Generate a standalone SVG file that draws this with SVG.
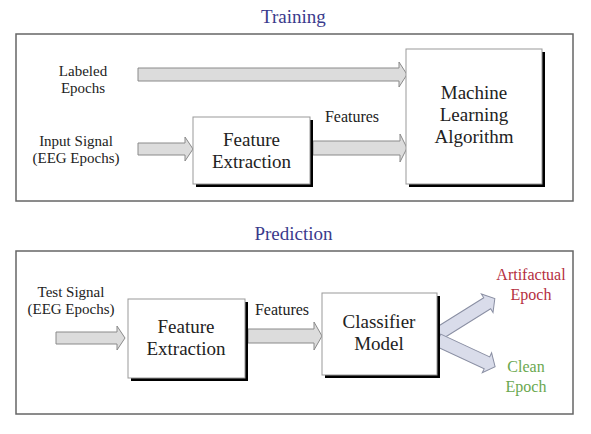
<svg xmlns="http://www.w3.org/2000/svg" width="591" height="434" viewBox="0 0 591 434">
<style>
text{font-family:'Liberation Serif','DejaVu Serif Condensed','DejaVu Serif',serif;text-anchor:middle;fill:#222}
.title{font-size:19px;fill:#3a3a8c}
.lbl{font-size:15px}
.feat{font-size:16px}
.box{font-size:19px}
.frame{fill:#fff;stroke:#666;stroke-width:1.5}
.node rect.b{fill:#fff;stroke:#999;stroke-width:1}
.node rect.s{fill:#000}
.arr{fill:#dcdcdc;stroke:#8a8a8a;stroke-width:1}
.darr{fill:#d9dcea;stroke:#8a8fa3;stroke-width:1}
</style>
<rect width="591" height="434" fill="#fff"/>
<g id="training-frame">
<rect class="frame" x="16" y="34" width="557" height="167"/>
<text class="title" x="293.5" y="23">Training</text>
</g>
<g id="prediction-frame">
<rect class="frame" x="16" y="251" width="557" height="163"/>
<text class="title" x="293.5" y="240">Prediction</text>
</g>
<g id="connectors">
<polygon class="arr" points="138,68 399,68 399,62 407,74.5 399,87 399,81 138,81"/>
<polygon class="arr" points="138,143 185,143 185,137 193,149 185,161 185,155 138,155"/>
<polygon class="arr" points="313,141 400,141 400,134 407,148 400,162 400,155 313,155"/>
<polygon class="arr" points="56,332 117,332 117,326 125,338 117,350 117,344 56,344"/>
<polygon class="arr" points="248,329 314,329 314,322 322,336 314,350 314,343 248,343"/>
<polygon class="darr" transform="translate(438,334) rotate(-32)" points="0,-6.5 58,-6.5 58,-11 67,0 58,11 58,6.5 0,6.5"/>
<polygon class="darr" transform="translate(438,340) rotate(25)" points="0,-6.5 54,-6.5 54,-11 63,0 54,11 54,6.5 0,6.5"/>
</g>
<g id="labeled-epochs">
<text class="lbl" x="83" y="76">Labeled</text>
<text class="lbl" x="83" y="93">Epochs</text>
</g>
<g id="input-signal">
<text class="lbl" x="76" y="146">Input Signal</text>
<text class="lbl" x="76" y="163">(EEG Epochs)</text>
</g>
<g id="feature-extraction-1" class="node">
<rect class="s" x="196" y="120" width="117" height="67"/>
<rect class="b" x="193" y="117" width="117" height="67"/>
<text class="box" x="251.5" y="146">Feature</text>
<text class="box" x="251.5" y="168">Extraction</text>
</g>
<g id="features-label-1">
<text class="feat" x="352" y="122">Features</text>
</g>
<g id="ml-algorithm" class="node">
<rect class="s" x="409" y="52" width="136" height="135"/>
<rect class="b" x="406" y="49" width="136" height="135"/>
<text class="box" x="474" y="99">Machine</text>
<text class="box" x="474" y="121">Learning</text>
<text class="box" x="474" y="143">Algorithm</text>
</g>
<g id="test-signal">
<text class="lbl" x="71" y="297">Test Signal</text>
<text class="lbl" x="71" y="314">(EEG Epochs)</text>
</g>
<g id="feature-extraction-2" class="node">
<rect class="s" x="131" y="302" width="117" height="79"/>
<rect class="b" x="128" y="299" width="117" height="79"/>
<text class="box" x="186" y="333">Feature</text>
<text class="box" x="186" y="355">Extraction</text>
</g>
<g id="features-label-2">
<text class="feat" x="282" y="315">Features</text>
</g>
<g id="classifier-model" class="node">
<rect class="s" x="325" y="296" width="115" height="82"/>
<rect class="b" x="322" y="293" width="115" height="82"/>
<text class="box" x="379" y="328">Classifier</text>
<text class="box" x="379" y="350">Model</text>
</g>
<g id="artifactual-epoch">
<text class="feat" x="531" y="280" style="fill:#b5303f">Artifactual</text>
<text class="feat" x="531" y="300" style="fill:#b5303f">Epoch</text>
</g>
<g id="clean-epoch">
<text class="feat" x="526" y="372" style="fill:#6aa84f">Clean</text>
<text class="feat" x="526" y="392" style="fill:#6aa84f">Epoch</text>
</g>
</svg>
